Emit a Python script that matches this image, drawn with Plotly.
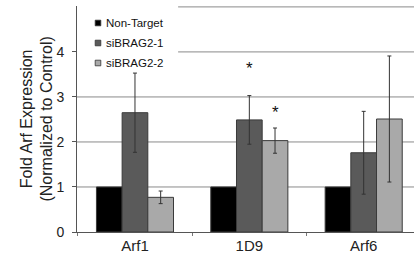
import plotly.graph_objects as go

categories = ["Arf1", "1D9", "Arf6"]
series_names = ["Non-Target", "siBRAG2-1", "siBRAG2-2"]
non_target = [1.0, 1.0, 1.0]
sibrag2_1 = [2.65, 2.49, 1.76]
sibrag2_1_err = [0.88, 0.54, 0.92]
sibrag2_2 = [0.77, 2.03, 2.51]
sibrag2_2_err = [0.14, 0.28, 1.40]
y_ticks = [0, 1, 2, 3, 4]
y_tick_labels = ["0", "1", "2", "3", "4"]
grid_values = [1, 2, 3, 4, 5]
y_title = "Fold Arf Expression<br>(Normalized to Control)"

colors = ["#000000", "#5a5a5a", "#a9a9a9"]
FONT = "Liberation Sans, Arial, sans-serif"

fig = go.Figure()
values = [non_target, sibrag2_1, sibrag2_2]
errs = [None, sibrag2_1_err, sibrag2_2_err]
for name, vals, err, col in zip(series_names, values, errs, colors):
    fig.add_trace(go.Bar(
        x=categories, y=vals, name=name, showlegend=False,
        marker=dict(color=col, line=dict(color="#3a3a3a", width=1)),
        error_y=(dict(type="data", array=err, visible=True, color="#333333",
                      thickness=1, width=2) if err else None),
    ))

# horizontal gridlines (the upper ones are interrupted by the legend box)
for g in grid_values:
    fig.add_shape(type="line", xref="paper", yref="y",
                  x0=(0.30 if g >= 4 else 0.0), x1=1.0, y0=g, y1=g,
                  line=dict(color="#8a8a8a", width=1), layer="below")

# legend drawn by hand: small squares + labels in the upper-left corner
PLOT_H = 267 - 6 - 35
PLOT_W = 414 - 77
for i, (name, col) in enumerate(zip(series_names, colors)):
    yc = 1 - (17 + 20 * i) / PLOT_H
    xc = 21 / PLOT_W
    hx, hy = 2.8 / PLOT_W, 2.8 / PLOT_H
    fig.add_shape(type="rect", xref="paper", yref="paper",
                  x0=xc - hx, x1=xc + hx, y0=yc - hy, y1=yc + hy,
                  fillcolor=col, line=dict(color="#333333", width=0.8))
    fig.add_annotation(xref="paper", yref="paper", x=27 / PLOT_W, y=yc, text=name,
                       showarrow=False, xanchor="left", yanchor="middle",
                       font=dict(size=11.5, color="#111111", family=FONT))

for cat_shift, ypos in [(0, 3.73), (26, 2.74)]:
    fig.add_annotation(x="1D9", y=ypos, xshift=cat_shift, text="*", showarrow=False,
                       font=dict(size=17, color="#111111", family=FONT),
                       yanchor="middle", yshift=-4)

# y-axis title
fig.add_annotation(xref="paper", yref="paper", x=-0.12, y=0.5, text=y_title,
                   textangle=-90, showarrow=False, xanchor="center", yanchor="middle",
                   font=dict(size=16, color="#222222", family=FONT))

fig.update_layout(
    width=414, height=267,
    margin=dict(l=77, r=0, t=6, b=35),
    paper_bgcolor="white", plot_bgcolor="white",
    barmode="group", bargap=0.326, bargroupgap=0,
    font=dict(family=FONT, color="#222222"),
    showlegend=False,
    xaxis=dict(type="category", range=[-0.507, 2.44], showline=True,
               linecolor="#555555", linewidth=1, ticks="outside", ticklen=3,
               tickcolor="#777777", tickson="boundaries", showgrid=False,
               automargin=False,
               tickfont=dict(size=15, color="#222222")),
    yaxis=dict(range=[0, 5.02], tickvals=y_ticks, ticktext=y_tick_labels,
               showline=True, linecolor="#555555", linewidth=1,
               ticks="outside", ticklen=4, tickcolor="#555555",
               ticklabelstandoff=5, automargin=False,
               showgrid=False, zeroline=False,
               tickfont=dict(size=14, color="#222222")),
)

# remove the browser's default page margin so the figure sits at the window origin
fig.write_html("out.html", config={"displayModeBar": False},
               post_script="document.body.style.margin='0';")
